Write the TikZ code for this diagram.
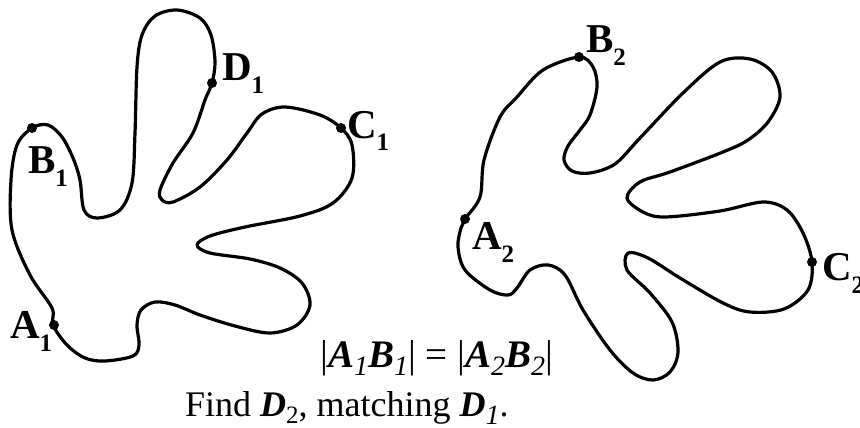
\documentclass[tikz,border=0pt]{standalone}
\usepackage{fontspec}
\setmainfont{Liberation Serif}
\newcommand{\lbl}[2]{\fontsize{41}{41}\selectfont\textbf{#1}\raisebox{-13pt}{\fontsize{25}{25}\selectfont\textbf{#2}}}
\newcommand{\bi}[2]{\textbf{\textit{#1}}\raisebox{-8pt}{\fontsize{28}{28}\selectfont\textit{#2}}}
\newcommand{\bu}[2]{\textbf{\textit{#1}}\raisebox{-7pt}{\fontsize{25}{25}\selectfont #2}}
\begin{document}
\begin{tikzpicture}[x=1pt,y=-1pt,
  outline/.style={line width=3.2pt, line join=round},
  dot/.style={circle, fill=black, inner sep=0pt, minimum size=10pt},
  lab/.style={anchor=base west, inner sep=0pt, outer sep=0pt},
  txt/.style={anchor=base west, inner sep=0pt, font=\fontsize{36}{36}\selectfont},
  eqtxt/.style={anchor=base west, inner sep=0pt, font=\fontsize{39}{39}\selectfont}]
\useasboundingbox (0,0) rectangle (860,428);
% left shape
\draw[outline] plot[smooth cycle, tension=0.55] coordinates {
(53,325) (67,345) (85,358) (105,361) (133,356) (139,345) (137,325) (141,310)
(155,302) (175,305) (200,315) (235,326) (270,333) (297,325) (310,305) (302,283)
(280,268) (250,259) (210,253) (197,245) (210,236) (245,227) (300,216) (333,203)
(352,178) (352,145) (341,128) (320,115) (285,107) (262,114) (247,133) (227,160)
(200,187) (173,202) (162,200) (160,190) (173,163) (193,133) (205,100) (212,83)
(215,62) (211,35) (200,18) (177,10) (155,16) (142,35) (137,67) (135,133)
(132,183) (120,210) (97,218) (84,210) (80,180) (73,158) (62,137) (48,125)
(32,128) (17,145) (11,180) (12,230) (30,275) (52,308)};
% right shape
\draw[outline] plot[smooth cycle, tension=0.55] coordinates {
(465,219) (480,197) (484,160) (500,117) (517,97) (543,70) (579,57) (593,67)
(597,87) (590,115) (580,130) (568,146) (564,160) (572,171) (590,173) (615,164)
(640,138) (683,93) (720,62) (750,59) (772,72) (780,97) (768,122) (748,140)
(723,152) (670,172) (640,182) (627,198) (643,212) (665,217) (720,211) (763,202)
(787,210) (803,233) (812,262) (808,290) (784,309) (750,312) (723,303) (680,278)
(648,258) (628,253) (627,270) (650,293) (672,322) (678,352) (670,372) (653,380)
(633,373) (610,350) (583,310) (565,275) (548,265) (530,270) (517,288) (508,295)
(490,290) (465,270) (458,247) (461,228)};
% points
\node[dot] (A1) at (54,325) {};
\node[dot] (B1) at (32,128) {};
\node[dot] (C1) at (341,128) {};
\node[dot] (D1) at (212,83) {};
\node[dot] (A2) at (465,219) {};
\node[dot] (B2) at (579,57) {};
\node[dot] (C2) at (812,262) {};
% labels
\node[lab] (lA1) at (10,338) {\lbl{A}{1}};
\node[lab] (lB1) at (28,173) {\lbl{B}{1}};
\node[lab] (lC1) at (347,138) {\lbl{C}{1}};
\node[lab] (lD1) at (222,81) {\lbl{D}{1}};
\node[lab] (lA2) at (472,249) {\lbl{A}{2}};
\node[lab] (lB2) at (586,53) {\lbl{B}{2}};
\node[lab] (lC2) at (822,280) {\lbl{C}{2}};
% texts
\node[eqtxt] (eq) at (320,367) {|\bi{A}{1}\bi{B}{1}| = |\bi{A}{2}\bi{B}{2}|};
\node[txt] (find) at (185,416) {Find \bu{D}{2}, matching \bi{D}{1}.};
\end{tikzpicture}
\end{document}
